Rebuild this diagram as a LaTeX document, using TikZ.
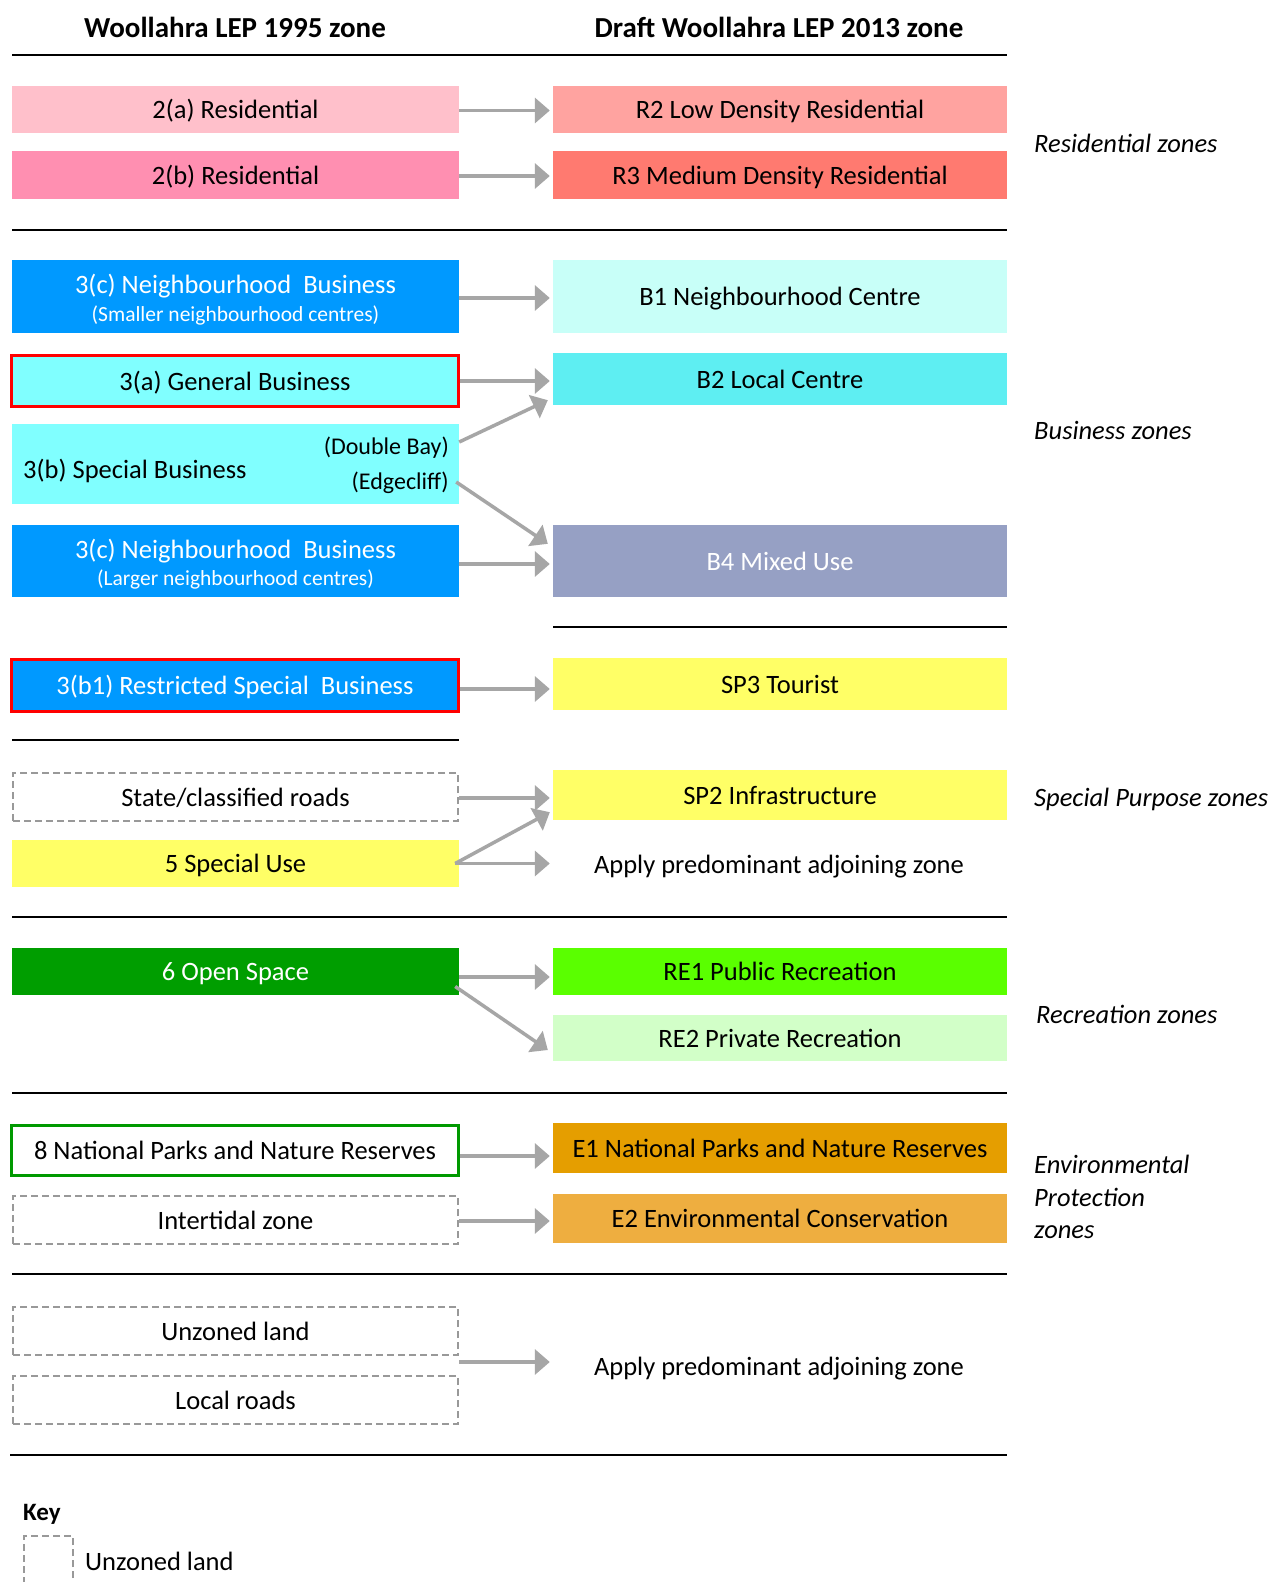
\documentclass[tikz,border=0pt]{standalone}
\usepackage{fontspec}
\setmainfont{Carlito}
\usetikzlibrary{arrows.meta,calc}
\definecolor{arrgray}{HTML}{A6A6A6}
\definecolor{dgray}{HTML}{999999}
\definecolor{cA}{HTML}{FFC0CB}
\definecolor{cB}{HTML}{FF8FB1}
\definecolor{cR2}{HTML}{FFA3A0}
\definecolor{cR3}{HTML}{FF7A70}
\definecolor{cBlue}{HTML}{0099FF}
\definecolor{cB1}{HTML}{C8FFF8}
\definecolor{cCyan}{HTML}{80FFFF}
\definecolor{cB2}{HTML}{5EEEF2}
\definecolor{cB4}{HTML}{96A0C4}
\definecolor{cYel}{HTML}{FFFF66}
\definecolor{cOS}{HTML}{009E00}
\definecolor{cRE1}{HTML}{5AFF00}
\definecolor{cRE2}{HTML}{D2FFC8}
\definecolor{cNP}{HTML}{009900}
\definecolor{cE1}{HTML}{E59E00}
\definecolor{cE2}{HTML}{EEAE40}
\definecolor{cRed}{HTML}{FF0000}
\begin{document}
\begin{tikzpicture}[x=1pt,y=-1pt,
  txt/.style={font=\fontsize{26.5}{30}\selectfont},
  lbox/.style={txt, inner sep=0pt, minimum width=447pt, align=center, text height=19.5pt, text depth=1pt},
  rbox/.style={txt, inner sep=0pt, minimum width=454pt, align=center, text height=19.5pt, text depth=1pt},
  dbox/.style={draw=dgray, line width=2pt, dash pattern=on 7pt off 4pt},
  redb/.style={draw=cRed, line width=3pt},
  arr/.style={draw=arrgray, line width=3.5pt, -{Triangle[length=15pt,width=25pt]}},
  hline/.style={draw=black, line width=2pt},
  head/.style={font=\fontsize{29}{34}\selectfont\bfseries},
  zlab/.style={font=\fontsize{26.5}{30}\selectfont\itshape, anchor=west, align=left, inner sep=0pt},
  small/.style={font=\fontsize{21.5}{24}\selectfont},
  paren/.style={font=\fontsize{24}{28}\selectfont, anchor=east, inner sep=0pt}
]
\useasboundingbox (0,0) rectangle (1274,1582);
\fill[white] (0,0) rectangle (1274,1582);

% headers
\node[head] (h1) at (235,27) {Woollahra LEP 1995 zone};
\node[head] (h2) at (779,27) {Draft Woollahra LEP 2013 zone};

% separator lines
\draw[hline] (12,54.5) -- (1007,54.5);
\draw[hline] (12,230) -- (1007,230);
\draw[hline] (553,627) -- (1007,627);
\draw[hline] (12,740) -- (459,740);
\draw[hline] (12,917) -- (1007,917);
\draw[hline] (12,1093) -- (1007,1093);
\draw[hline] (12,1274) -- (1007,1274);
\draw[hline] (10,1455) -- (1007,1455);

% left column
\node[lbox, fill=cA, minimum height=47pt] (a2) at (235.5,109) {2(a) Residential};
\node[lbox, fill=cB, minimum height=48.5pt] (b2l) at (235.5,175) {2(b) Residential};
\node[lbox, fill=cBlue, minimum height=73pt] (c3s) at (235.5,296.5) {};
\node[txt, text=white] (c3st) at (235.5,286.5) {3(c) Neighbourhood\ \ Business};
\node[small, text=white] (c3ss) at (235.5,315.5) {(Smaller neighbourhood centres)};
\node[lbox, fill=cCyan, redb, minimum width=447pt, minimum height=51pt] (a3) at (235,381) {3(a) General Business};
\node[lbox, fill=cCyan, minimum height=80pt] (b3) at (235.5,464) {};
\node[txt, anchor=west, inner sep=0pt] (b3t) at (23,471) {3(b) Special Business};
\node[paren] (db) at (449,448) {(Double Bay)};
\node[paren] (ec) at (449,483) {(Edgecliff)};
\node[lbox, fill=cBlue, minimum height=72pt] (c3l) at (235.5,561) {};
\node[txt, text=white] (c3lt) at (235.5,551) {3(c) Neighbourhood\ \ Business};
\node[small, text=white] (c3ls) at (235.5,579) {(Larger neighbourhood centres)};
\node[lbox, fill=cBlue, text=white, redb, minimum width=447pt, minimum height=52pt] (b31) at (235,685.5) {3(b1) Restricted Special\ \ Business};
\node[lbox, dbox, minimum width=445pt, minimum height=48pt] (sr) at (235.5,797) {State/classified roads};
\node[lbox, fill=cYel, minimum height=47pt] (s5) at (235.5,863.5) {5 Special Use};
\node[lbox, fill=cOS, text=white, minimum height=47pt] (os) at (235.5,971.5) {6 Open Space};
\node[lbox, draw=cNP, line width=3pt, minimum width=447pt, minimum height=50pt] (np) at (235,1150) {8 National Parks and Nature Reserves};
\node[lbox, dbox, minimum width=445pt, minimum height=48pt] (it) at (235.5,1220) {Intertidal zone};
\node[lbox, dbox, minimum width=445pt, minimum height=48pt] (uz) at (235.5,1331) {Unzoned land};
\node[lbox, dbox, minimum width=445pt, minimum height=48pt] (lr) at (235.5,1400) {Local roads};

% right column
\node[rbox, fill=cR2, minimum height=47pt] (r2) at (780,109) {R2 Low Density Residential};
\node[rbox, fill=cR3, minimum height=48.5pt] (r3) at (780,175) {R3 Medium Density Residential};
\node[rbox, fill=cB1, minimum height=73pt] (bb1) at (780,296.5) {B1 Neighbourhood Centre};
\node[rbox, fill=cB2, minimum height=52pt] (bb2) at (780,379) {B2 Local Centre};
\node[rbox, fill=cB4, text=white, minimum height=72pt] (bb4) at (780,561) {B4 Mixed Use};
\node[rbox, fill=cYel, minimum height=52pt] (sp3) at (780,684) {SP3 Tourist};
\node[rbox, fill=cYel, minimum height=50pt] (sp2) at (780,795) {SP2 Infrastructure};
\node[txt] (ap1) at (779,867) {Apply predominant adjoining zone};
\node[rbox, fill=cRE1, minimum height=47pt] (re1) at (780,971.5) {RE1 Public Recreation};
\node[rbox, fill=cRE2, minimum height=46pt] (re2) at (780,1038) {RE2 Private Recreation};
\node[rbox, fill=cE1, minimum height=50pt] (e1) at (780,1148) {E1 National Parks and Nature Reserves};
\node[rbox, fill=cE2, minimum height=49pt] (e2) at (780,1218.5) {E2 Environmental Conservation};
\node[txt] (ap2) at (779,1369) {Apply predominant adjoining zone};

% zone labels
\node[zlab] (zr) at (1034,143) {Residential zones};
\node[zlab] (zb) at (1034,430) {Business zones};
\node[zlab] (zs) at (1034,799) {Special Purpose zones};
\node[zlab] (zrec) at (1036,1014) {Recreation zones};
\node[zlab, font=\fontsize{26.5}{32.5}\selectfont\itshape] (ze) at (1034,1197) {Environmental\\Protection\\zones};

% arrows
\draw[arr, shorten >=3pt] (a2.east |- 0,110.5) -- (r2.west |- 0,110.5);
\draw[arr, shorten >=3pt] (b2l.east |- 0,176) -- (r3.west |- 0,176);
\draw[arr, shorten >=3pt] (c3s.east |- 0,298) -- (bb1.west |- 0,298);
\draw[arr, shorten >=3pt] (a3.east |- 0,381) -- (bb2.west |- 0,381);
\draw[arr] (b3.east |- 0,442) -- ($(bb2.south west)+(-5,-5)$);
\draw[arr] ($(b3.east)+(-3,18)$) -- ($(bb4.north west)+(-5,19)$);
\draw[arr, shorten >=3pt] (c3l.east |- 0,564) -- (bb4.west |- 0,564);
\draw[arr, shorten >=3pt] (b31.east |- 0,689) -- (sp3.west |- 0,689);
\draw[arr, shorten >=3pt] (sr.east |- 0,798) -- (sp2.west |- 0,798);
\draw[arr] ($(s5.east)+(-4,0)$) -- ($(sp2.south west)+(-3,-8)$);
\draw[arr, shorten >=3pt] ($(s5.east)+(-4,0)$) -- (sp2.west |- 0,863.5);
\draw[arr, shorten >=3pt] (os.east |- 0,977) -- (re1.west |- 0,977);
\draw[arr] ($(os.east)+(-4,15)$) -- ($(re2.west)+(-5,12)$);
\draw[arr, shorten >=3pt] (np.east |- 0,1156) -- (e1.west |- 0,1156);
\draw[arr, shorten >=3pt] (it.east |- 0,1221) -- (e2.west |- 0,1221);
\draw[arr, shorten >=3pt] (uz.east |- 0,1362) -- (e2.west |- 0,1362);

% key
\node[font=\fontsize{25}{30}\selectfont\bfseries, anchor=west, inner sep=0pt] (key) at (23,1514) {Key};
\node[dbox, minimum width=49pt, minimum height=70pt, anchor=north west, inner sep=0pt] (kbox) at (23,1535) {};
\node[txt, anchor=west, inner sep=0pt] (kl) at (85,1561) {Unzoned land};
\end{tikzpicture}
\end{document}
